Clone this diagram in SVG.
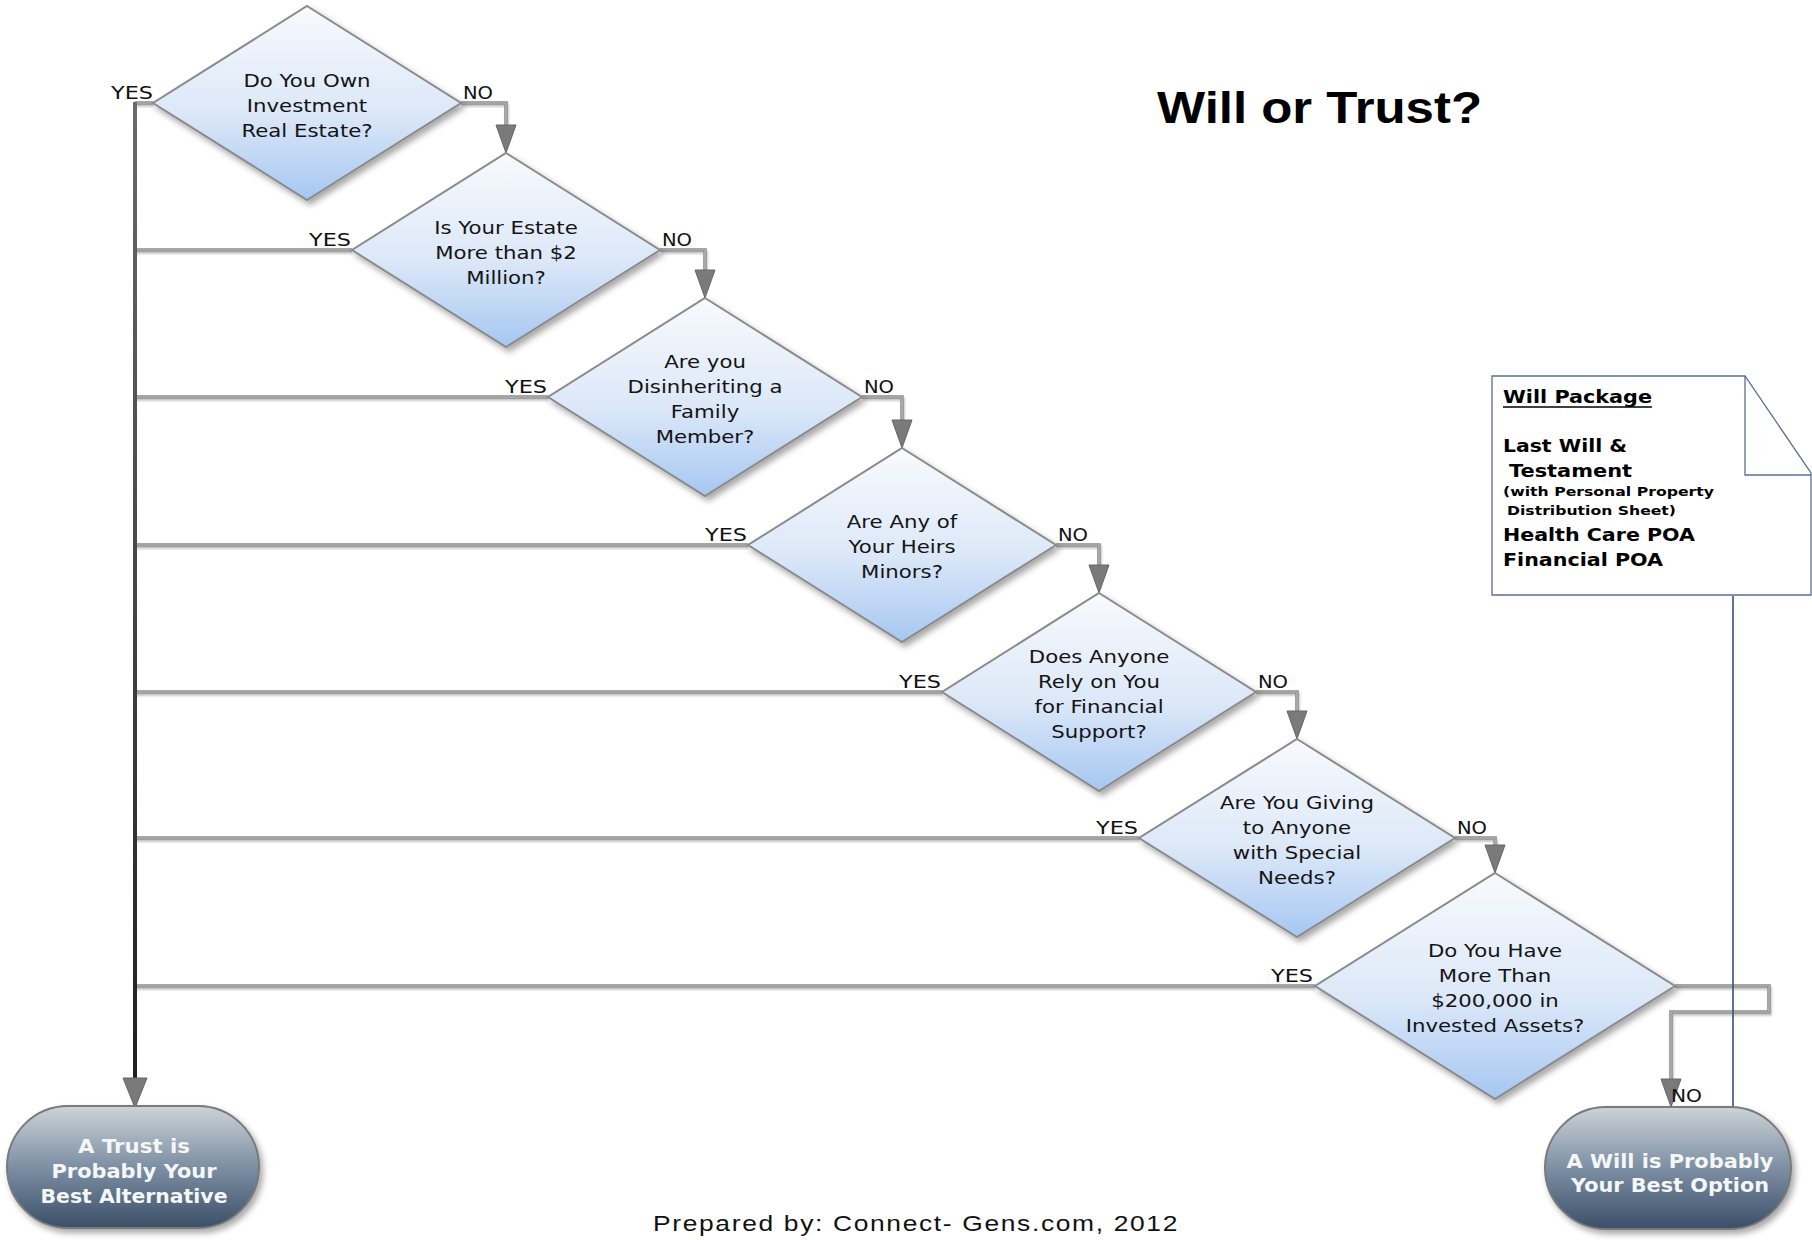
<svg xmlns="http://www.w3.org/2000/svg" width="1812" height="1240" viewBox="0 0 1812 1240">
<defs>
<linearGradient id="dg" x1="0" y1="0" x2="0" y2="1">
<stop offset="0" stop-color="#f8fafd"/>
<stop offset="0.55" stop-color="#dce8f8"/>
<stop offset="1" stop-color="#a6c7f2"/>
</linearGradient>
<linearGradient id="tg" x1="0" y1="0" x2="0" y2="1">
<stop offset="0" stop-color="#cdd3d8"/>
<stop offset="0.5" stop-color="#7d8fa3"/>
<stop offset="1" stop-color="#3b4f68"/>
</linearGradient>
<linearGradient id="trunkg" gradientUnits="userSpaceOnUse" x1="0" y1="100" x2="0" y2="1100">
<stop offset="0" stop-color="#6a6a6a"/>
<stop offset="1" stop-color="#1e1e1e"/>
</linearGradient>
<filter id="sh" x="-10%" y="-10%" width="125%" height="130%">
<feDropShadow dx="3" dy="4" stdDeviation="3" flood-color="#000" flood-opacity="0.35"/>
</filter>
<filter id="lsh" x="-5%" y="-50%" width="110%" height="200%">
<feDropShadow dx="1" dy="2" stdDeviation="1" flood-color="#000" flood-opacity="0.25"/>
</filter>
</defs>
<style>
.dia{fill:url(#dg);stroke:#8a8a8a;stroke-width:2;filter:url(#sh)}
.term{fill:url(#tg);stroke:#7a7a7a;stroke-width:2;filter:url(#sh)}
.q{font-family:"DejaVu Sans",Verdana,sans-serif;font-size:18.5px;fill:#141414;text-anchor:middle}
.tt{font-family:"DejaVu Sans",Verdana,sans-serif;font-size:20px;font-weight:bold;fill:#f4f6f8;text-anchor:middle}
.lbl{font-family:"DejaVu Sans",Verdana,sans-serif;font-size:17.5px;fill:#111}
.co{fill:none;stroke:#8a8a8a;stroke-width:3.5;filter:url(#lsh)}
.ci{fill:none;stroke:#bdbdbd;stroke-width:1.2}
.ah{fill:#7a7a7a;stroke:#666;stroke-width:1}
.nt{font-family:"DejaVu Sans",Verdana,sans-serif;font-weight:bold;fill:#000}
</style>
<rect width="1812" height="1240" fill="#ffffff"/>

<g id="connectors">
<path class="co" d="M153,103 H135 M352,250 H135 M548,397 H135 M748,545 H135 M942,692 H135 M1139,838 H135 M1315,986 H135"/>
<path class="ci" d="M153,103 H135 M352,250 H135 M548,397 H135 M748,545 H135 M942,692 H135 M1139,838 H135 M1315,986 H135"/>
<line x1="135" y1="102" x2="135" y2="1104" stroke="url(#trunkg)" stroke-width="4"/>
<polygon class="ah" points="123,1078 147,1078 135,1108"/>
<path class="co" d="M461,103 H506 V126 M660,250 H705 V271 M862,397 H902 V421 M1056,545 H1099 V566 M1256,692 H1297 V712 M1455,838 H1495 V846 M1675,986 H1769 V1012 H1671 V1080"/>
<path class="ci" d="M461,103 H506 V126 M660,250 H705 V271 M862,397 H902 V421 M1056,545 H1099 V566 M1256,692 H1297 V712 M1455,838 H1495 V846 M1675,986 H1769 V1012 H1671 V1080"/>
<polygon class="ah" points="496,125 516,125 506,153"/>
<polygon class="ah" points="695,270 715,270 705,298"/>
<polygon class="ah" points="892,420 912,420 902,448"/>
<polygon class="ah" points="1089,565 1109,565 1099,593"/>
<polygon class="ah" points="1287,711 1307,711 1297,739"/>
<polygon class="ah" points="1485,845 1505,845 1495,873"/>
<polygon class="ah" points="1661,1079 1681,1079 1671,1107"/>
<line x1="1733" y1="596" x2="1733" y2="1107" stroke="#3d4c72" stroke-width="1.6"/>
<text class="lbl" x="153" y="99" text-anchor="end" textLength="42" lengthAdjust="spacingAndGlyphs">YES</text>
<text class="lbl" x="463" y="99" textLength="30" lengthAdjust="spacingAndGlyphs">NO</text>
<text class="lbl" x="351" y="246" text-anchor="end" textLength="42" lengthAdjust="spacingAndGlyphs">YES</text>
<text class="lbl" x="662" y="246" textLength="30" lengthAdjust="spacingAndGlyphs">NO</text>
<text class="lbl" x="547" y="393" text-anchor="end" textLength="42" lengthAdjust="spacingAndGlyphs">YES</text>
<text class="lbl" x="864" y="393" textLength="30" lengthAdjust="spacingAndGlyphs">NO</text>
<text class="lbl" x="747" y="541" text-anchor="end" textLength="42" lengthAdjust="spacingAndGlyphs">YES</text>
<text class="lbl" x="1058" y="541" textLength="30" lengthAdjust="spacingAndGlyphs">NO</text>
<text class="lbl" x="941" y="688" text-anchor="end" textLength="42" lengthAdjust="spacingAndGlyphs">YES</text>
<text class="lbl" x="1258" y="688" textLength="30" lengthAdjust="spacingAndGlyphs">NO</text>
<text class="lbl" x="1138" y="834" text-anchor="end" textLength="42" lengthAdjust="spacingAndGlyphs">YES</text>
<text class="lbl" x="1457" y="834" textLength="30" lengthAdjust="spacingAndGlyphs">NO</text>
<text class="lbl" x="1313" y="982" text-anchor="end" textLength="42" lengthAdjust="spacingAndGlyphs">YES</text>
<text class="lbl" x="1671" y="1102" textLength="31" lengthAdjust="spacingAndGlyphs">NO</text>
</g>

<g id="q1">
<polygon class="dia" points="307,6 461,103 307,200 153,103"/>
<g transform="translate(307,0) scale(1.15,1)"><text class="q"><tspan x="0" y="87">Do You Own</tspan><tspan x="0" y="112">Investment</tspan><tspan x="0" y="137">Real Estate?</tspan></text></g>
</g>
<g id="q2">
<polygon class="dia" points="506,153 660,250 506,347 352,250"/>
<g transform="translate(506,0) scale(1.15,1)"><text class="q"><tspan x="0" y="234">Is Your Estate</tspan><tspan x="0" y="259">More than $2</tspan><tspan x="0" y="284">Million?</tspan></text></g>
</g>
<g id="q3">
<polygon class="dia" points="705,298 862,397 705,496 548,397"/>
<g transform="translate(705,0) scale(1.15,1)"><text class="q"><tspan x="0" y="368">Are you</tspan><tspan x="0" y="393">Disinheriting a</tspan><tspan x="0" y="418">Family</tspan><tspan x="0" y="443">Member?</tspan></text></g>
</g>
<g id="q4">
<polygon class="dia" points="902,448 1056,545 902,642 748,545"/>
<g transform="translate(902,0) scale(1.15,1)"><text class="q"><tspan x="0" y="528">Are Any of</tspan><tspan x="0" y="553">Your Heirs</tspan><tspan x="0" y="578">Minors?</tspan></text></g>
</g>
<g id="q5">
<polygon class="dia" points="1099,593 1256,692 1099,791 942,692"/>
<g transform="translate(1099,0) scale(1.15,1)"><text class="q"><tspan x="0" y="663">Does Anyone</tspan><tspan x="0" y="688">Rely on You</tspan><tspan x="0" y="713">for Financial</tspan><tspan x="0" y="738">Support?</tspan></text></g>
</g>
<g id="q6">
<polygon class="dia" points="1297,739 1455,838 1297,937 1139,838"/>
<g transform="translate(1297,0) scale(1.15,1)"><text class="q"><tspan x="0" y="809">Are You Giving</tspan><tspan x="0" y="834">to Anyone</tspan><tspan x="0" y="859">with Special</tspan><tspan x="0" y="884">Needs?</tspan></text></g>
</g>
<g id="q7">
<polygon class="dia" points="1495,873 1675,986 1495,1099 1315,986"/>
<g transform="translate(1495,0) scale(1.15,1)"><text class="q"><tspan x="0" y="957">Do You Have</tspan><tspan x="0" y="982">More Than</tspan><tspan x="0" y="1007">$200,000 in</tspan><tspan x="0" y="1032">Invested Assets?</tspan></text></g>
</g>

<g id="trust">
<rect class="term" x="7" y="1106" width="252" height="122" rx="61" ry="61"/>
<text class="tt" x="134" y="1153" textLength="112" lengthAdjust="spacingAndGlyphs">A Trust is</text>
<text class="tt" x="134" y="1178" textLength="165" lengthAdjust="spacingAndGlyphs">Probably Your</text>
<text class="tt" x="134" y="1203" textLength="187" lengthAdjust="spacingAndGlyphs">Best Alternative</text>
</g>
<g id="will">
<rect class="term" x="1545" y="1107" width="246" height="122" rx="61" ry="61"/>
<text class="tt" x="1670" y="1168" textLength="207" lengthAdjust="spacingAndGlyphs">A Will is Probably</text>
<text class="tt" x="1670" y="1192" textLength="198" lengthAdjust="spacingAndGlyphs">Your Best Option</text>
</g>

<g id="note">
<path d="M1492,376 H1745 L1811,473 V595 H1492 Z" fill="#ffffff" stroke="#5f6e8e" stroke-width="1.3"/>
<path d="M1745,376 V475 H1811" fill="none" stroke="#5f6e8e" stroke-width="1.3"/>
<text class="nt" x="1503" y="403" font-size="17" textLength="149" lengthAdjust="spacingAndGlyphs">Will Package</text>
<line x1="1503" y1="407" x2="1652" y2="407" stroke="#000" stroke-width="1.6"/>
<text class="nt" x="1503" y="452" font-size="17" textLength="124" lengthAdjust="spacingAndGlyphs">Last Will &amp;</text>
<text class="nt" x="1509" y="477" font-size="17" textLength="123" lengthAdjust="spacingAndGlyphs">Testament</text>
<text class="nt" x="1503" y="496" font-size="12.5" textLength="211" lengthAdjust="spacingAndGlyphs">(with Personal Property</text>
<text class="nt" x="1507" y="515" font-size="12.5" textLength="169" lengthAdjust="spacingAndGlyphs">Distribution Sheet)</text>
<text class="nt" x="1503" y="541" font-size="17" textLength="192" lengthAdjust="spacingAndGlyphs">Health Care POA</text>
<text class="nt" x="1503" y="566" font-size="17" textLength="160" lengthAdjust="spacingAndGlyphs">Financial POA</text>
</g>

<text x="1157" y="123" font-family="'Liberation Sans',Arial,sans-serif" font-size="44" font-weight="bold" fill="#000" textLength="325" lengthAdjust="spacingAndGlyphs">Will or Trust?</text>
<g transform="translate(653,1231) scale(1.2,1)"><text x="0" y="0" font-family="'Liberation Sans',Arial,sans-serif" font-size="22" fill="#111" textLength="437" lengthAdjust="spacing">Prepared by: Connect- Gens.com, 2012</text></g>
</svg>
